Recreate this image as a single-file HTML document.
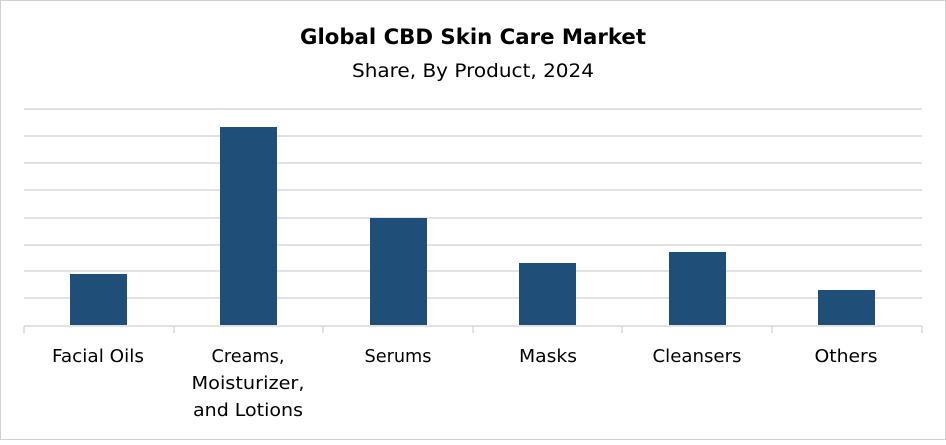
<!DOCTYPE html><html><head><style>body{margin:0}svg text{font-family:"DejaVu Sans","Liberation Sans",sans-serif}</style></head><body>
<svg width="946" height="440" xmlns="http://www.w3.org/2000/svg">
<rect x="0.5" y="0.5" width="945" height="439" fill="#fff" stroke="#d0d0d0"/>
<text x="473" y="44" text-anchor="middle" font-size="21" font-weight="bold" fill="#000" textLength="346" lengthAdjust="spacingAndGlyphs">Global CBD Skin Care Market</text>
<text x="473" y="77" text-anchor="middle" font-size="19" fill="#000" textLength="242" lengthAdjust="spacingAndGlyphs">Share, By Product, 2024</text>
<g stroke="#d9d9d9" stroke-width="1.5">
<line x1="24" x2="922" y1="109" y2="109"/><line x1="24" x2="922" y1="136" y2="136"/><line x1="24" x2="922" y1="163" y2="163"/><line x1="24" x2="922" y1="190" y2="190"/><line x1="24" x2="922" y1="218" y2="218"/><line x1="24" x2="922" y1="245" y2="245"/><line x1="24" x2="922" y1="271" y2="271"/><line x1="24" x2="922" y1="298" y2="298"/>
<line x1="24" x2="922" y1="326" y2="326"/>
<line x1="24" x2="24" y1="326" y2="333"/><line x1="174" x2="174" y1="326" y2="333"/><line x1="323" x2="323" y1="326" y2="333"/><line x1="473" x2="473" y1="326" y2="333"/><line x1="622" x2="622" y1="326" y2="333"/><line x1="772" x2="772" y1="326" y2="333"/><line x1="922" x2="922" y1="326" y2="333"/>
</g>
<g fill="#1f4e79">
<rect x="70" y="274" width="57" height="51"/><rect x="220" y="127" width="57" height="198"/><rect x="370" y="218" width="57" height="107"/><rect x="519" y="263" width="57" height="62"/><rect x="669" y="252" width="57" height="73"/><rect x="818" y="290" width="57" height="35"/>
</g>
<g font-size="18" fill="#000" text-anchor="middle">
<text x="98" y="362" textLength="92" lengthAdjust="spacingAndGlyphs">Facial Oils</text>
<text x="248" y="362" textLength="73" lengthAdjust="spacingAndGlyphs">Creams,</text><text x="248" y="389" textLength="113" lengthAdjust="spacingAndGlyphs">Moisturizer,</text><text x="248" y="416" textLength="110" lengthAdjust="spacingAndGlyphs">and Lotions</text>
<text x="398" y="362" textLength="67" lengthAdjust="spacingAndGlyphs">Serums</text><text x="548" y="362" textLength="58" lengthAdjust="spacingAndGlyphs">Masks</text><text x="697" y="362" textLength="89" lengthAdjust="spacingAndGlyphs">Cleansers</text><text x="846" y="362" textLength="63" lengthAdjust="spacingAndGlyphs">Others</text>
</g>
</svg></body></html>
